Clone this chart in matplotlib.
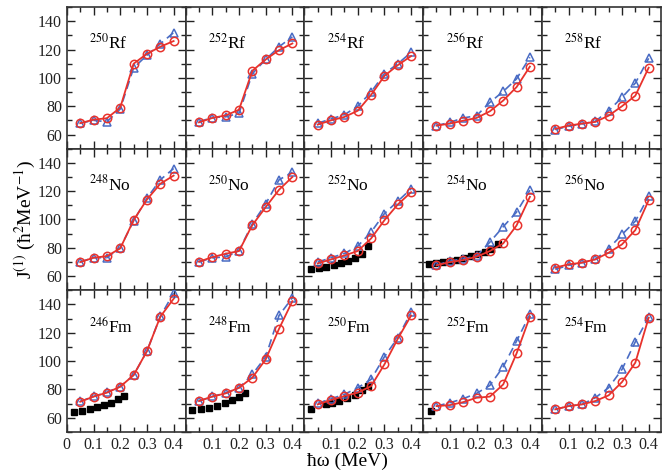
import numpy as np
import matplotlib
matplotlib.use('Agg')
import matplotlib.pyplot as plt
from matplotlib.ticker import MultipleLocator

plt.rcParams['font.family'] = ['Liberation Serif', 'DejaVu Serif']
plt.rcParams['mathtext.fontset'] = 'stix'

# rotational frequency (MeV) of the calculated points
hw = [0.05, 0.10, 0.15, 0.20, 0.25, 0.30, 0.35, 0.40]

# J(1) values: *_c = red circles (solid), *_t = blue triangles (dashed)
rf250_c = [68, 70.5, 71.5, 79, 110, 117, 122, 126]
rf250_t = [68, 70, 69, 78, 107, 116, 124, 132]
rf252_c = [68.6, 71.7, 73.5, 77.5, 105, 113, 119.6, 124.3]
rf252_t = [69, 72, 72.5, 75, 103, 113, 122, 129]
rf254_c = [67, 70, 72.4, 76.8, 88, 101.4, 109, 115.4]
rf254_t = [68, 71, 74, 80, 90, 103, 110, 118]
rf256_c = [66.3, 67.7, 69.8, 71.7, 76.4, 84, 93.5, 108]
rf256_t = [66.3, 68.6, 71.7, 73.3, 82.7, 90.4, 99.3, 114.5]
rf258_c = [64, 66.3, 67.7, 68.9, 73.3, 80, 87.4, 107.2]
rf258_t = [63.5, 65.8, 67.5, 69.3, 76.8, 86.2, 96.3, 113.8]

no248_c = [69.9, 73, 74.1, 79.6, 99.5, 114.1, 125.2, 131]
no248_t = [70, 73, 73, 80, 99, 115, 128, 136]
no250_c = [70.2, 73.4, 75.8, 77.7, 96, 108.7, 121, 130]
no250_t = [70, 73, 73.5, 78, 97, 111, 128, 133.4]
no252_c = [69, 71.8, 74.6, 77.7, 86.6, 99.5, 110.6, 119.3]
no252_t = [69.9, 73, 76, 81.2, 91.1, 104.2, 112.9, 121.7]
no254_c = [67.6, 69.9, 71.3, 73.7, 77.7, 83.1, 95.8, 116]
no254_t = [67.8, 70.6, 72.3, 74.1, 84, 94.9, 105.2, 120.7]
no256_c = [66, 68.3, 69.5, 71.8, 76.5, 82.4, 92.5, 113.6]
no256_t = [64.8, 67.6, 69.5, 71.8, 79.4, 89.4, 98.8, 116.4]

fm246_c = [71.3, 74.9, 77.7, 81.9, 90.1, 107, 131.3, 144]
fm246_t = [71.5, 75, 78, 82, 90, 107, 131.5, 148]
fm248_c = [71.8, 74.9, 77.2, 81.2, 88.3, 101.2, 122.8, 142.3]
fm248_t = [71.8, 75, 77.5, 81, 90.6, 103, 132.2, 144.7]
fm250_c = [69.4, 72.5, 75.3, 77.7, 82.3, 97.7, 115.8, 132.2]
fm250_t = [70.1, 73.4, 76.5, 81.2, 87.1, 103.1, 116.5, 134.6]
fm252_c = [68.2, 68.9, 71, 74.1, 74.9, 83.5, 105.4, 131.3]
fm252_t = [68.2, 70.6, 73.4, 77.2, 82.8, 96, 114.1, 133]
fm254_c = [65.9, 68.2, 69.4, 71.8, 75.8, 85.2, 98.9, 130.6]
fm254_t = [65.9, 68.2, 69.4, 74.1, 81.2, 94.1, 113.6, 131]

# experimental data (black squares)
no252_ex_x = [0.025, 0.053, 0.082, 0.11, 0.138, 0.164, 0.19, 0.215, 0.24]
no252_ex_y = [64.8, 66, 66.7, 67.6, 69, 70.6, 72.5, 75.3, 81.2]
no254_ex_x = [0.022, 0.048, 0.074, 0.1, 0.126, 0.152, 0.178, 0.204, 0.23, 0.256, 0.282]
no254_ex_y = [68.5, 69, 69.8, 70.7, 71.7, 72.8, 74, 75.5, 77.3, 79.5, 82.5]
fm246_ex_x = [0.025, 0.055, 0.085, 0.113, 0.14, 0.165, 0.19, 0.213]
fm246_ex_y = [64, 64.7, 66.4, 67.5, 68.7, 70.6, 73, 75.3]
fm248_ex_x = [0.025, 0.056, 0.087, 0.117, 0.146, 0.173, 0.199, 0.224]
fm248_ex_y = [65.4, 65.9, 67.1, 68.2, 70.1, 72.3, 74.9, 77.7]
fm250_ex_x = [0.025, 0.08, 0.105, 0.13, 0.16, 0.19, 0.215, 0.24]
fm250_ex_y = [66.4, 69.4, 70.2, 72, 73.8, 76, 79.5, 82.5]
fm252_ex_x = [0.028]
fm252_ex_y = [64.7]

labels = [['250', 'Rf'], ['252', 'Rf'], ['254', 'Rf'], ['256', 'Rf'], ['258', 'Rf'],
          ['248', 'No'], ['250', 'No'], ['252', 'No'], ['254', 'No'], ['256', 'No'],
          ['246', 'Fm'], ['248', 'Fm'], ['250', 'Fm'], ['252', 'Fm'], ['254', 'Fm']]
calc_c = [rf250_c, rf252_c, rf254_c, rf256_c, rf258_c,
          no248_c, no250_c, no252_c, no254_c, no256_c,
          fm246_c, fm248_c, fm250_c, fm252_c, fm254_c]
calc_t = [rf250_t, rf252_t, rf254_t, rf256_t, rf258_t,
          no248_t, no250_t, no252_t, no254_t, no256_t,
          fm246_t, fm248_t, fm250_t, fm252_t, fm254_t]
exp_data = {7: (no252_ex_x, no252_ex_y), 8: (no254_ex_x, no254_ex_y),
            10: (fm246_ex_x, fm246_ex_y), 11: (fm248_ex_x, fm248_ex_y),
            12: (fm250_ex_x, fm250_ex_y), 13: (fm252_ex_x, fm252_ex_y)}

red = '#e8322c'
blue = '#4a6cc4'

fig, axes = plt.subplots(3, 5, figsize=(6.62, 4.72), dpi=100)
fig.subplots_adjust(left=0.101, right=0.998, top=0.985, bottom=0.085, wspace=0, hspace=0)

for i, ax in enumerate(axes.flat):
    row, col = divmod(i, 5)
    ax.plot(hw, calc_t[i], color=blue, ls=(0, (5, 3)), lw=1.2, marker='^',
            mfc='none', mec=blue, ms=6, mew=1.1, zorder=3)
    ax.plot(hw, calc_c[i], color=red, ls='-', lw=1.3, marker='o',
            mfc='none', mec=red, ms=6, mew=1.1, zorder=4)
    if i in exp_data:
        ex, ey = exp_data[i]
        ax.plot(ex, ey, ls='none', marker='s', color='black', ms=4.5, zorder=2)
    ax.text(0.19, 0.745, r'$^{%s}$%s' % (labels[i][0], labels[i][1]),
            transform=ax.transAxes, fontsize=12.5, va='center', ha='left')
    ax.set_xlim(0, 0.445)
    ax.set_ylim(50, 150)
    ax.set_xticks([0, 0.1, 0.2, 0.3, 0.4])
    ax.xaxis.set_minor_locator(MultipleLocator(0.05))
    ax.set_yticks([60, 80, 100, 120, 140])
    ax.yaxis.set_minor_locator(MultipleLocator(10))
    ax.tick_params(which='both', direction='in', top=True, right=True,
                   labelsize=11.5, colors='#222222', width=1.0)
    ax.tick_params(which='major', length=6)
    ax.tick_params(which='minor', length=3.5)
    if row == 2:
        if col == 0:
            ax.set_xticklabels(['0', '0.1', '0.2', '0.3', '0.4'])
        else:
            ax.set_xticklabels(['', '0.1', '0.2', '0.3', '0.4'])
    else:
        ax.set_xticklabels([])
    if col != 0:
        ax.set_yticklabels([])
    for s in ax.spines.values():
        s.set_linewidth(1.2)
        s.set_color('#333333')

fig.text(0.038, 0.535, 'J$^{(1)}$ (ħ$^{2}$MeV$^{-1}$)', rotation=90,
         fontsize=14, ha='center', va='center')
fig.text(0.525, 0.022, 'ħω (MeV)', fontsize=14, ha='center', va='center')

fig.savefig('out.png', dpi=100)
